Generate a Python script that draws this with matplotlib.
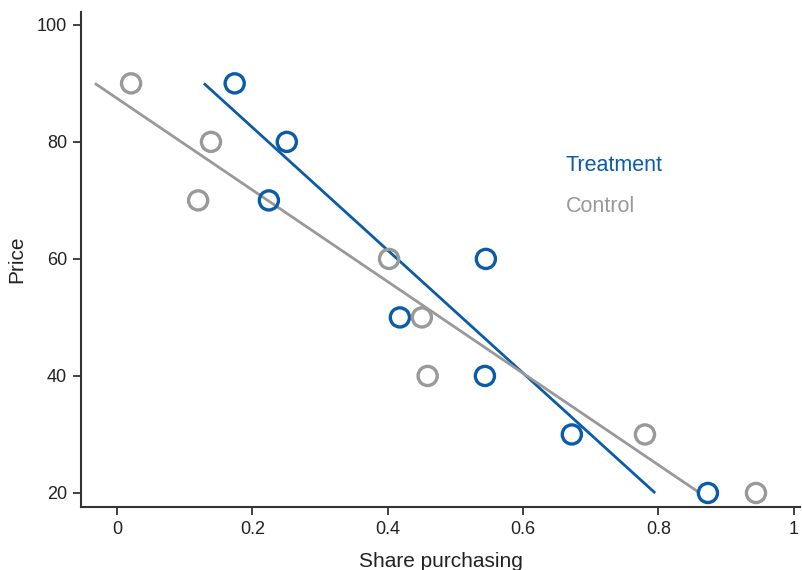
import numpy as np
import matplotlib
matplotlib.use("Agg")
import matplotlib.pyplot as plt

plt.rcParams["font.family"] = ["Liberation Sans", "DejaVu Sans"]

# price levels, same for both groups
price = [90, 80, 70, 60, 50, 40, 30, 20]
share_treatment = [0.174, 0.251, 0.2245, 0.545, 0.418, 0.5436, 0.672, 0.873]
share_control = [0.021, 0.139, 0.120, 0.402, 0.4505, 0.459, 0.780, 0.944]

# fitted demand lines, read at the end prices
fit_price = [90, 20]
fit_treatment = [0.1285, 0.795]
fit_control = [-0.0325, 0.861]

BLUE = "#0b5ca8"
GRAY = "#999999"

fig = plt.figure(figsize=(8.02, 5.70), dpi=100)
ax = fig.add_axes([0.101, 0.1105, 0.8965, 0.8685])

for shares, fit, col in [(share_treatment, fit_treatment, BLUE),
                         (share_control, fit_control, GRAY)]:
    ax.plot(fit, fit_price, color=col, lw=2, solid_capstyle="butt", zorder=2)
    ax.scatter(shares, price, s=190, facecolors="none", edgecolors=col,
               linewidths=2.4, zorder=3)

ax.text(0.663, 75.9, "Treatment", color=BLUE, fontsize=15.5, va="center")
ax.text(0.663, 69.0, "Control", color=GRAY, fontsize=15.5, va="center")

ax.set_xlim(-0.053, 1.009)
ax.set_ylim(17.6, 102.2)
ax.set_xticks([0, 0.2, 0.4, 0.6, 0.8, 1])
ax.set_xticklabels(["0", "0.2", "0.4", "0.6", "0.8", "1"])
ax.set_yticks([20, 40, 60, 80, 100])
ax.tick_params(labelsize=13, length=6, width=1.3, color="#333333",
               labelcolor="#222222", pad=4)
for side in ["top", "right"]:
    ax.spines[side].set_visible(False)
for side in ["left", "bottom"]:
    ax.spines[side].set_linewidth(1.5)
    ax.spines[side].set_color("#333333")

ax.set_xlabel("Share purchasing", fontsize=15, color="#222222", labelpad=10)
ax.set_ylabel("Price", fontsize=15, color="#222222", labelpad=8)

fig.savefig("out.png", dpi=100)
